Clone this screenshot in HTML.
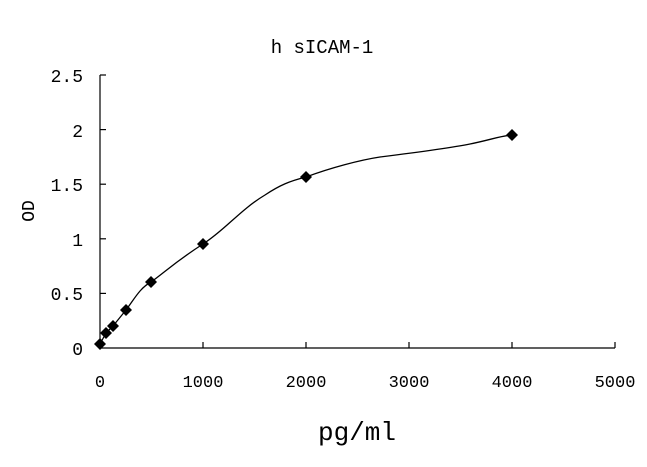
<!DOCTYPE html>
<html><head><meta charset="utf-8"><style>html,body{margin:0;padding:0;background:#fff}</style></head>
<body>
<svg width="647" height="462" xmlns="http://www.w3.org/2000/svg" style="font-family:'Liberation Mono','Noto Serif CJK SC',monospace">
<rect width="647" height="462" fill="#fff"/>
<text x="322" y="53" font-size="19" text-anchor="middle" fill="#000">h sICAM-1</text>
<g stroke="#000" stroke-width="1.2" fill="none">
<line x1="100" y1="75" x2="100" y2="348"/>
<line x1="100" y1="348" x2="615" y2="348"/>
<line x1="100" y1="75" x2="106" y2="75"/>
<line x1="100" y1="129.6" x2="106" y2="129.6"/>
<line x1="100" y1="184.2" x2="106" y2="184.2"/>
<line x1="100" y1="238.8" x2="106" y2="238.8"/>
<line x1="100" y1="293.4" x2="106" y2="293.4"/>
<line x1="203" y1="348" x2="203" y2="342"/>
<line x1="306" y1="348" x2="306" y2="342"/>
<line x1="409" y1="348" x2="409" y2="342"/>
<line x1="512" y1="348" x2="512" y2="342"/>
<line x1="615" y1="348" x2="615" y2="342"/>
<path d="M100,344 L106,333 L113,326 L126,310 C135,298 140,288 151,282 C165,272 175,262 203,244 C225,230 240,210 265,195 C280,185 290,181 306,177 C330,168 360,160 380,157 C420,152 455,147 470,144 C490,140 500,136 512,135" stroke-width="1.3"/>
</g>
<g fill="#000">
<path d="M100,338 l6,6 l-6,6 l-6,-6z"/>
<path d="M106,327 l6,6 l-6,6 l-6,-6z"/>
<path d="M113,320 l6,6 l-6,6 l-6,-6z"/>
<path d="M126,304 l6,6 l-6,6 l-6,-6z"/>
<path d="M151,276 l6,6 l-6,6 l-6,-6z"/>
<path d="M203,238 l6,6 l-6,6 l-6,-6z"/>
<path d="M306,171 l6,6 l-6,6 l-6,-6z"/>
<path d="M512,129 l6,6 l-6,6 l-6,-6z"/>
</g>
<g font-size="18" fill="#000" text-anchor="end">
<text x="83" y="82">2.5</text>
<text x="83" y="137">2</text>
<text x="83" y="191">1.5</text>
<text x="83" y="246">1</text>
<text x="83" y="300">0.5</text>
<text x="83" y="355">0</text>
</g>
<g font-size="17" fill="#000" text-anchor="middle">
<text x="100" y="387">0</text>
<text x="203" y="387">1000</text>
<text x="306" y="387">2000</text>
<text x="409" y="387">3000</text>
<text x="512" y="387">4000</text>
<text x="615" y="387">5000</text>
</g>
<text x="357" y="440" font-size="26" text-anchor="middle" fill="#000">pg/ml</text>
<text transform="translate(34,211) rotate(-90)" font-size="18" text-anchor="middle" fill="#000">OD</text>
</svg>
</body></html>
